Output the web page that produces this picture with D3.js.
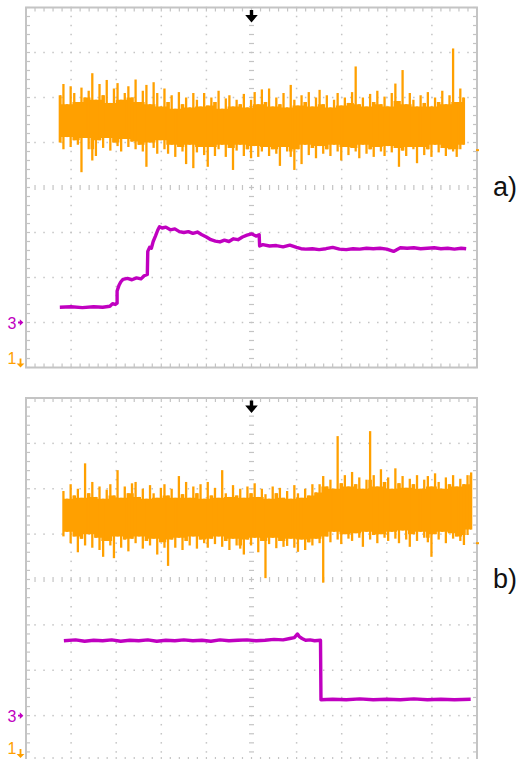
<!DOCTYPE html>
<html>
<head>
<meta charset="utf-8">
<script src="https://cdn.jsdelivr.net/npm/d3@7"></script>
<style>
  body { margin: 0; background: #fff; }
  svg { display: block; font-family: "Liberation Sans", Arial, sans-serif; }
</style>
</head>
<body>
<svg id="chart" width="523" height="759"></svg>
<script>
// Scope screen: 10 x 8 divisions, values below are in divisions
const xDivs = [0, 10];
const yDivs = [-4, 4];
const panelLabels = ['a)', 'b)'];
const ch3Ref = [-3, -3];          // channel 3 ground marker
const trigLevel = [0.83, 0.8];    // small trigger level mark on right edge

// Channel 1 (orange) - min/max envelope per display column
const ch1aStart = 0.75, ch1aStep = 0.08;
const ch1aHi = [
  2.05, 2.3, 1.85, 2.25, 2.1, 1.9, 2.22, 2.0, 2.15, 2.54,
  1.95, 2.3, 2.05, 2.39, 1.88, 2.2, 2.32, 1.95, 2.1, 2.25,
  2.0, 2.4, 1.9, 2.15, 2.28, 1.85, 2.34, 2.1, 1.8, 2.2,
  1.9, 2.05, 1.75, 2.12, 1.85, 2.0, 1.78, 2.1, 1.95, 1.8,
  2.1, 1.82, 2.0, 1.9, 2.15, 1.75, 1.98, 2.05, 1.8, 1.95,
  1.85, 2.08, 1.78, 1.95, 2.12, 1.85, 2.18, 1.9, 2.2, 1.8,
  2.0, 1.85, 2.1, 1.78, 2.28, 1.95, 1.82, 2.05, 1.9, 2.12,
  1.8, 2.0, 2.17, 1.85, 2.05, 1.78, 1.95, 2.1, 1.82, 2.0,
  1.88, 2.12, 2.69, 1.85, 2.0, 1.8, 2.08, 1.9, 2.15, 1.85,
  2.02, 1.8, 2.1, 2.31, 1.92, 2.61, 1.85, 2.1, 1.95, 1.8,
  2.05, 1.88, 2.12, 1.8, 2.0, 1.9, 2.15, 1.85, 2.05, 3.09,
  1.9, 2.2, 2.0
];
const ch1aLo = [
  1.0, 0.85, 1.12, 0.9, 1.05, 0.95, 0.34, 1.1, 0.85, 0.6,
  0.7, 1.05, 0.88, 1.1, 0.82, 1.0, 0.92, 0.8, 1.08, 0.9,
  1.02, 0.85, 0.95, 0.8, 0.46, 1.0, 0.88, 0.75, 1.05, 0.85,
  0.75, 0.95, 0.68, 0.9, 0.8, 0.52, 0.95, 0.43, 0.78, 0.9,
  0.72, 0.46, 0.9, 0.7, 0.85, 0.95, 0.68, 0.88, 0.39, 0.82,
  0.95, 0.7, 0.85, 0.65, 0.92, 0.68, 0.8, 0.9, 0.7, 0.85,
  0.75, 0.48, 0.9, 0.8, 0.68, 0.39, 0.85, 0.52, 0.95, 0.72,
  0.88, 0.65, 0.92, 0.75, 0.85, 0.7, 0.95, 0.8, 0.6, 0.9,
  0.72, 0.88, 0.8, 0.65, 0.95, 0.75, 0.85, 0.68, 0.9, 0.8,
  0.7, 0.92, 0.78, 0.88, 0.46, 0.82, 0.7, 0.9, 0.85, 0.54,
  0.9, 0.72, 0.85, 0.68, 0.95, 0.78, 0.88, 0.7, 0.85, 0.8,
  0.68, 0.85, 0.95
];

const ch1bStart = 0.83, ch1bStep = 0.08;
const ch1bHi = [
  1.95, 1.78, 2.1, 1.85, 2.0, 1.8, 2.56, 1.9, 2.15, 1.82,
  2.05, 1.78, 1.98, 2.1, 1.85, 2.41, 1.8, 2.05, 1.9, 2.12,
  2.15, 1.82, 2.0, 1.78, 2.08, 1.9, 1.8, 2.02, 2.1, 1.85,
  2.0, 1.8, 2.28, 1.88, 2.15, 1.8, 2.05, 1.9, 2.1, 1.78,
  2.15, 1.85, 2.02, 1.8, 2.41, 1.9, 1.82, 2.08, 1.85, 2.0,
  1.8, 2.05, 1.9, 2.12, 1.82, 2.0, 1.88, 1.78, 2.05, 1.9,
  2.02, 1.8, 1.95, 1.78, 2.08, 1.9, 1.8, 2.0, 1.85, 2.1,
  1.92, 2.1, 2.28, 2.05, 2.2, 2.0, 3.16, 2.12, 2.3, 2.05,
  2.37, 2.1, 2.25, 2.0, 2.2, 3.27, 2.3, 2.05, 2.43, 2.15,
  2.25, 2.0, 2.45, 2.12, 2.28, 2.02, 2.22, 2.1, 2.3, 2.0,
  2.2, 2.28, 2.05, 2.34, 2.15, 2.0, 2.25, 2.1, 2.3, 2.05,
  2.22, 2.1, 2.3, 2.36
];
const ch1bLo = [
  0.95, 1.05, 0.8, 0.95, 0.6, 0.9, 0.75, 1.0, 0.7, 0.92,
  0.65, 0.5, 0.85, 0.75, 0.47, 0.95, 0.7, 0.88, 0.62, 0.9,
  0.8, 0.95, 0.68, 0.85, 0.75, 0.9, 0.55, 0.82, 0.7, 0.3,
  0.88, 0.7, 0.92, 0.65, 0.85, 0.75, 0.95, 0.68, 0.88, 0.8,
  0.7, 0.9, 0.78, 0.95, 0.72, 0.85, 0.65, 0.9, 0.75, 0.68,
  0.55, 0.88, 0.75, 0.92, 0.6, 0.85, 0.03, 0.78, 0.92, 0.69,
  0.85, 0.72, 0.74, 0.9, 0.7, 0.61, 0.88, 0.65, 0.82, 0.75,
  0.9, 0.8, -0.07, 0.95, 0.82, 1.05, 0.88, 0.78, 1.0, 0.9,
  0.85, 1.02, 0.92, 0.72, 1.05, 0.88, 0.98, 0.8, 1.0, 0.92,
  0.85, 1.05, 0.9, 0.8, 1.08, 0.88, 0.72, 1.0, 0.85, 1.05,
  0.92, 0.82, 0.5, 1.0, 0.88, 1.05, 0.8, 1.02, 0.9, 0.95,
  0.85, 0.76, 0.98, 1.1
];

// Channel 3 (magenta) - [time div, level div]
const ch3a = [
  [0.75, -2.66], [1.0, -2.65], [1.25, -2.67], [1.5, -2.65], [1.7, -2.66], [1.86, -2.64],
  [1.92, -2.58], [1.98, -2.6], [2.02, -2.57], [2.02, -2.3], [2.06, -2.18], [2.1, -2.1],
  [2.15, -2.04], [2.25, -2.02], [2.35, -2.05], [2.45, -2.01], [2.55, -2.03], [2.62, -1.96],
  [2.69, -1.93], [2.7, -1.42], [2.74, -1.33], [2.78, -1.35], [2.82, -1.2], [2.87, -1.08],
  [2.92, -0.95], [2.96, -0.87], [3.02, -0.9], [3.1, -0.88], [3.2, -0.94], [3.3, -0.92],
  [3.4, -0.98], [3.5, -1.0], [3.6, -0.98], [3.7, -1.02], [3.8, -0.99], [3.9, -1.05],
  [4.0, -1.1], [4.1, -1.16], [4.2, -1.19], [4.3, -1.21], [4.4, -1.17], [4.5, -1.2],
  [4.6, -1.14], [4.7, -1.16], [4.8, -1.1], [4.9, -1.06], [5.0, -1.03], [5.1, -1.08],
  [5.17, -1.05], [5.18, -1.3], [5.25, -1.27], [5.4, -1.3], [5.55, -1.29], [5.7, -1.32],
  [5.85, -1.28], [6.0, -1.33], [6.1, -1.36], [6.2, -1.37], [6.35, -1.36], [6.5, -1.38],
  [6.65, -1.36], [6.8, -1.33], [6.95, -1.37], [7.1, -1.38], [7.25, -1.36], [7.4, -1.37],
  [7.55, -1.35], [7.7, -1.36], [7.85, -1.35], [8.0, -1.37], [8.15, -1.42], [8.3, -1.34],
  [8.45, -1.35], [8.6, -1.34], [8.75, -1.36], [8.9, -1.35], [9.05, -1.34], [9.2, -1.36],
  [9.35, -1.35], [9.5, -1.37], [9.65, -1.35], [9.76, -1.36]
];
const ch3b = [
  [0.84, -1.35], [1.1, -1.33], [1.3, -1.36], [1.5, -1.34], [1.7, -1.35], [1.9, -1.33],
  [2.1, -1.36], [2.3, -1.34], [2.5, -1.35], [2.7, -1.33], [2.9, -1.36], [3.1, -1.34],
  [3.3, -1.35], [3.5, -1.33], [3.7, -1.35], [3.9, -1.34], [4.1, -1.36], [4.3, -1.33],
  [4.5, -1.35], [4.7, -1.34], [4.9, -1.33], [5.1, -1.35], [5.3, -1.34], [5.5, -1.32],
  [5.7, -1.33], [5.85, -1.3], [5.95, -1.28], [6.02, -1.2], [6.06, -1.26], [6.12, -1.3],
  [6.2, -1.34], [6.3, -1.33], [6.4, -1.35], [6.53, -1.34], [6.54, -2.65], [6.8, -2.64],
  [7.1, -2.65], [7.4, -2.63], [7.7, -2.65], [8.0, -2.64], [8.3, -2.65], [8.6, -2.63],
  [8.9, -2.65], [9.2, -2.64], [9.5, -2.65], [9.86, -2.64]
];

const ORANGE = '#ffa000';
const MAGENTA = '#c000c0';
const GRID = '#c4c4c4';

const svg = d3.select('#chart');

const panels = [
  { top: 7.5, bottom: 367.5, hi: ch1aHi, lo: ch1aLo, start: ch1aStart, step: ch1aStep, ch3: ch3a },
  { top: 398, bottom: 761, hi: ch1bHi, lo: ch1bLo, start: ch1bStart, step: ch1bStep, ch3: ch3b }
];

panels.forEach((p, pi) => {
  const x = d3.scaleLinear().domain(xDivs).range([26, 477]);
  const y = d3.scaleLinear().domain(yDivs).range([p.bottom, p.top]);
  const g = svg.append('g');

  // minor steps at 0.2 div
  const xMinor = d3.range(0, 50.5).map(m => m / 5);
  const yMinor = d3.range(0, 40.5).map(m => -4 + m / 5);

  // dotted major grid lines
  [1, 2, 3, 4, 6, 7, 8, 9].forEach(k => {
    g.selectAll(null).data(yMinor).enter().append('rect')
      .attr('x', x(k) - 0.75).attr('y', d => y(d) - 0.75)
      .attr('width', 1.5).attr('height', 1.5).attr('fill', GRID);
  });
  [-3, -2, -1, 1, 2, 3].forEach(j => {
    g.selectAll(null).data(xMinor).enter().append('rect')
      .attr('x', d => x(d) - 0.75).attr('y', y(j) - 0.75)
      .attr('width', 1.5).attr('height', 1.5).attr('fill', GRID);
  });

  // centre lines with ticks
  g.selectAll(null).data(yMinor).enter().append('line')
    .attr('x1', x(5) - 2.5).attr('x2', x(5) + 2.5)
    .attr('y1', d => y(d)).attr('y2', d => y(d))
    .attr('stroke', GRID).attr('stroke-width', 1.2);
  g.selectAll(null).data(xMinor).enter().append('line')
    .attr('x1', d => x(d)).attr('x2', d => x(d))
    .attr('y1', y(0) - 2.5).attr('y2', y(0) + 2.5)
    .attr('stroke', GRID).attr('stroke-width', 1.2);

  // border ticks
  g.selectAll(null).data(xMinor).enter().append('line')
    .attr('x1', d => x(d)).attr('x2', d => x(d))
    .attr('y1', y(4)).attr('y2', y(4) + 4)
    .attr('stroke', GRID).attr('stroke-width', 1.2);
  g.selectAll(null).data(xMinor).enter().append('line')
    .attr('x1', d => x(d)).attr('x2', d => x(d))
    .attr('y1', y(-4)).attr('y2', y(-4) - 4)
    .attr('stroke', GRID).attr('stroke-width', 1.2);
  g.selectAll(null).data(yMinor).enter().append('line')
    .attr('x1', x(0)).attr('x2', x(0) + 4)
    .attr('y1', d => y(d)).attr('y2', d => y(d))
    .attr('stroke', GRID).attr('stroke-width', 1.2);
  g.selectAll(null).data(yMinor).enter().append('line')
    .attr('x1', x(10)).attr('x2', x(10) - 4)
    .attr('y1', d => y(d)).attr('y2', d => y(d))
    .attr('stroke', GRID).attr('stroke-width', 1.2);

  // border
  g.append('rect')
    .attr('x', x(0)).attr('y', y(4))
    .attr('width', x(10) - x(0)).attr('height', y(-4) - y(4))
    .attr('fill', 'none').attr('stroke', GRID).attr('stroke-width', 2);

  // channel 1 trace: columns of min..max, solid where neighbours overlap
  const cols = p.hi.map((h, i) => ({ t: p.start + i * p.step, hi: h, lo: p.lo[i] }));
  const core = cols.map((c, i) => {
    const nb = cols.slice(Math.max(0, i - 1), i + 2);
    return { t: c.t, hi: d3.min(nb, d => d.hi), lo: d3.max(nb, d => d.lo) };
  });
  g.append('path').datum(core)
    .attr('d', d3.area().curve(d3.curveStep).x(d => x(d.t)).y0(d => y(d.lo)).y1(d => y(d.hi)))
    .attr('fill', ORANGE);
  g.selectAll(null).data(cols).enter().append('line')
    .attr('x1', d => x(d.t)).attr('x2', d => x(d.t))
    .attr('y1', d => y(d.lo)).attr('y2', d => y(d.hi))
    .attr('stroke', ORANGE).attr('stroke-width', 2.3);

  const line = d3.line().x(d => x(d[0])).y(d => y(d[1]));

  // channel 3 trace
  g.append('path').datum(p.ch3)
    .attr('d', line)
    .attr('fill', 'none').attr('stroke', MAGENTA)
    .attr('stroke-width', 3.4).attr('stroke-linejoin', 'round');

  // trigger position arrow
  g.append('path')
    .attr('transform', `translate(${x(5)},${y(4) + 2.5})`)
    .attr('d', 'M-1.7,0 h3.4 v5 h4.6 l-6.3,7.5 l-6.3,-7.5 h4.6 z')
    .attr('fill', '#000');

  // trigger level mark on right edge
  g.append('rect')
    .attr('x', x(10) - 1).attr('y', y(trigLevel[pi]) - 1)
    .attr('width', 3).attr('height', 2).attr('fill', ORANGE);

  // channel 3 marker
  const y3 = y(ch3Ref[pi]);
  g.append('text').attr('x', 16.5).attr('y', y3 + 6)
    .attr('text-anchor', 'end').attr('font-size', 16)
    .attr('fill', MAGENTA).text('3');
  g.append('path')
    .attr('transform', `translate(18,${y3})`)
    .attr('d', 'M0,-0.9 h1.8 v-2.4 l3.6,3.3 l-3.6,3.3 v-2.4 h-1.8 z')
    .attr('fill', MAGENTA);

  // channel 1 marker (offset below screen)
  const yb = Math.min(y(-4), 758);
  g.append('text').attr('x', 16.5).attr('y', yb - 4)
    .attr('text-anchor', 'end').attr('font-size', 16)
    .attr('fill', ORANGE).text('1');
  g.append('path')
    .attr('transform', `translate(20.5,${yb})`)
    .attr('d', 'M-0.9,-9 h1.8 v5 h3 l-3.9,4 l-3.9,-4 h3 z')
    .attr('fill', ORANGE);

  // panel label
  svg.append('text')
    .attr('x', 493).attr('y', y(0) + 8)
    .attr('font-size', 27).attr('fill', '#111')
    .text(panelLabels[pi]);
});
</script>
</body>
</html>
